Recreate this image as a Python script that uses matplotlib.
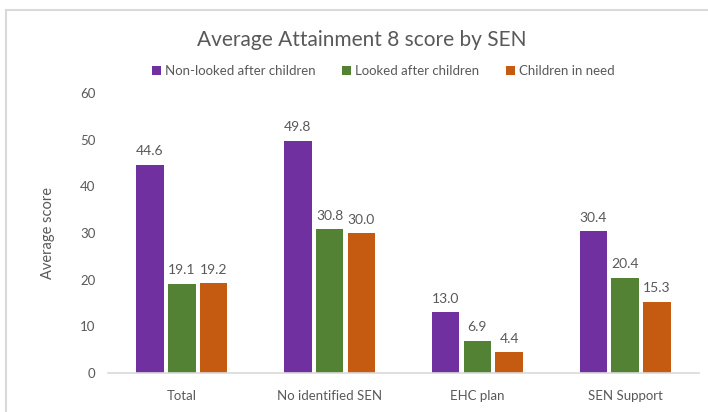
import matplotlib
matplotlib.use("Agg")
import matplotlib.pyplot as plt
from matplotlib.patches import Rectangle
import numpy as np

categories = ["Total", "No identified SEN", "EHC plan", "SEN Support"]
series_names = ["Non-looked after children", "Looked after children", "Children in need"]
non_lac = [44.6, 49.8, 13.0, 30.4]
lac = [19.1, 30.8, 6.9, 20.4]
cin = [19.2, 30.0, 4.4, 15.3]
colors = ["#7030A0", "#548235", "#C55A11"]

plt.rcParams['font.family'] = ['Lato', 'DejaVu Sans']

fig = plt.figure(figsize=(7.08, 4.12), dpi=100)
W, H = 708, 412
ax = fig.add_axes([108 / W, 1 - 373 / H, (699 - 108) / W, (373 - 93) / H])

x = np.arange(len(categories))
bw = 0.185
step = 0.215
txt = "#595959"
for i, (vals, c, name) in enumerate(zip([non_lac, lac, cin], colors, series_names)):
    pos = x + (i - 1) * step
    ax.bar(pos, vals, width=bw, color=c, label=name)
    for p, v in zip(pos, vals):
        ax.text(p, v + 1.6, f"{v:.1f}", ha="center", va="bottom", fontsize=10, color=txt)

ax.set_xlim(-0.5, len(categories) - 0.5)
ax.set_ylim(0, 60)
ax.set_yticks(range(0, 61, 10))
ax.set_xticks(x)
ax.set_xticklabels(categories)
ax.tick_params(axis="both", length=0, labelsize=9.5, colors=txt)
ax.tick_params(axis="x", pad=12)
ax.tick_params(axis="y", pad=9)
for s in ["top", "right", "left"]:
    ax.spines[s].set_visible(False)
ax.spines["bottom"].set_color("#D9D9D9")
ax.spines["bottom"].set_linewidth(1.2)
ax.set_ylabel("Average score", fontsize=10.5, color=txt, labelpad=18)

fig.text(362 / W, 1 - 40 / H, "Average Attainment 8 score by SEN", ha="center", va="center",
         fontsize=15, color=txt)
fig.legend(loc="center", bbox_to_anchor=(383 / W, 1 - 71 / H), ncol=3, frameon=False,
           fontsize=9.5, handlelength=0.7, handleheight=0.7, handletextpad=0.3,
           columnspacing=2.0, labelcolor=txt)

fig.patches.append(Rectangle((6 / W, -0.1), 1.2, (1 - 10 / H) + 0.1, transform=fig.transFigure,
                             fill=False, edgecolor="#D9D9D9", linewidth=1.5))

fig.savefig("out.png", dpi=100)
